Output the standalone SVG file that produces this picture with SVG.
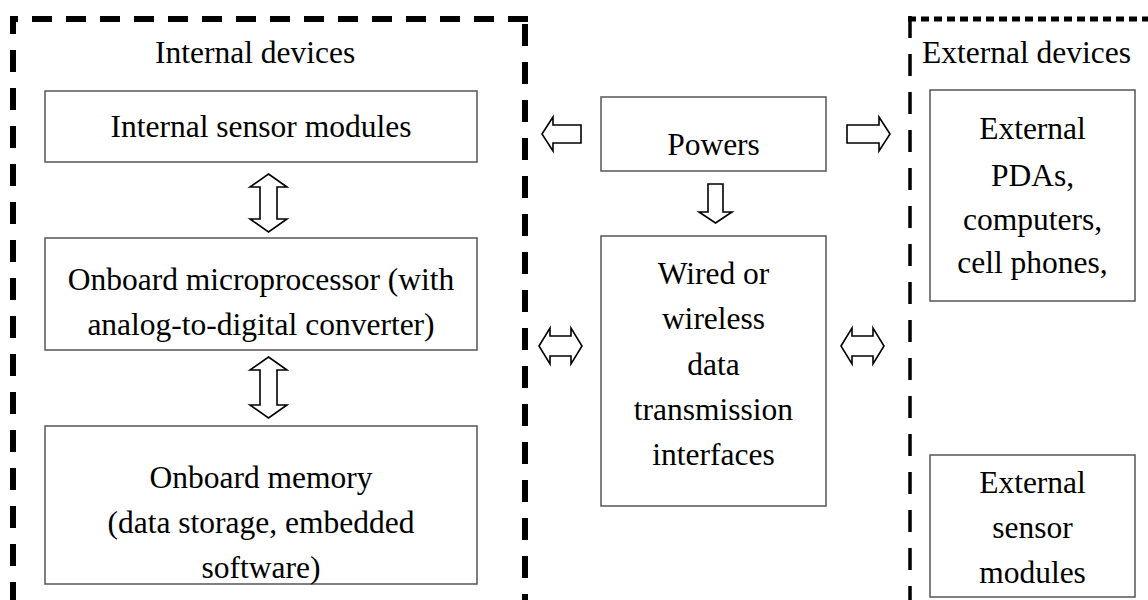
<svg xmlns="http://www.w3.org/2000/svg" width="1148" height="600" viewBox="0 0 1148 600">
  <style>
    .box { fill: #ffffff; stroke: #555555; stroke-width: 1.5; }
    .label { font-family: "Liberation Serif", "Times New Roman", serif; font-size: 31.5px; fill: #000000; text-anchor: middle; }
    .title { font-family: "Liberation Serif", "Times New Roman", serif; font-size: 31.5px; fill: #000000; }
    .bound { fill: none; stroke: #000000; }
    .arrow { fill: #ffffff; stroke: #000000; stroke-width: 1.6; stroke-linejoin: miter; }
  </style>
  <rect width="1148" height="600" fill="#ffffff"/>

  <!-- dashed boundary: internal devices -->
  <g id="internal-devices">
    <path class="bound" d="M10,19 H528" stroke-width="6" stroke-dasharray="20 14" stroke-dashoffset="12"/>
    <path class="bound" d="M13,16 V600" stroke-width="6" stroke-dasharray="22 16" stroke-dashoffset="4"/>
    <path class="bound" d="M525,16 V600" stroke-width="6" stroke-dasharray="22 16" stroke-dashoffset="30"/>
    <text class="title" x="155" y="63">Internal devices</text>
  </g>

  <!-- dashed boundary: external devices -->
  <g id="external-devices">
    <path class="bound" d="M908,19 H1148" stroke-width="5" stroke-dasharray="8 5"/>
    <path class="bound" d="M910,16 V600" stroke-width="3.5" stroke-dasharray="22 16"/>
    <text class="title" x="922" y="63">External devices</text>
  </g>

  <g id="internal-sensor-modules">
    <rect class="box" x="45" y="91" width="432" height="71"/>
    <text class="label" x="261" y="137">Internal sensor modules</text>
  </g>

  <g id="onboard-microprocessor">
    <rect class="box" x="45" y="238" width="432" height="112"/>
    <text class="label" x="261" y="290">Onboard microprocessor (with</text>
    <text class="label" x="261" y="335">analog-to-digital converter)</text>
  </g>

  <g id="onboard-memory">
    <rect class="box" x="45" y="426" width="432" height="158"/>
    <text class="label" x="261" y="488">Onboard memory</text>
    <text class="label" x="261" y="533"> (data storage, embedded</text>
    <text class="label" x="261" y="578">software)</text>
  </g>

  <g id="powers">
    <rect class="box" x="601" y="97" width="225" height="74"/>
    <text class="label" x="713.5" y="155">Powers</text>
  </g>

  <g id="data-interfaces">
    <rect class="box" x="601" y="236" width="225" height="270"/>
    <text class="label" x="713.5" y="284">Wired or</text>
    <text class="label" x="713.5" y="329">wireless</text>
    <text class="label" x="713.5" y="375">data</text>
    <text class="label" x="713.5" y="420">transmission</text>
    <text class="label" x="713.5" y="465">interfaces</text>
  </g>

  <g id="external-pdas">
    <rect class="box" x="930" y="90" width="205" height="211"/>
    <text class="label" x="1032.5" y="139">External</text>
    <text class="label" x="1032.5" y="186">PDAs,</text>
    <text class="label" x="1032.5" y="230">computers,</text>
    <text class="label" x="1032.5" y="273">cell phones,</text>
  </g>

  <g id="external-sensor-modules">
    <rect class="box" x="930" y="455" width="205" height="142"/>
    <text class="label" x="1032.5" y="493">External</text>
    <text class="label" x="1032.5" y="538">sensor</text>
    <text class="label" x="1032.5" y="583">modules</text>
  </g>

  <!-- block arrows between the units -->
  <g id="connectors">
    <polygon class="arrow" points="268.5,174 287,187 277,187 277,219 287,219 268.5,232 250,219 260,219 260,187 250,187"/>
    <polygon class="arrow" points="268.5,357 287,370 277,370 277,405 287,405 268.5,418 250,405 260,405 260,370 250,370"/>
    <polygon class="arrow" points="542,134 553,117 553,125 581,125 581,143 553,143 553,151"/>
    <polygon class="arrow" points="890,134 879,117 879,125 847,125 847,143 879,143 879,151"/>
    <polygon class="arrow" points="715.5,223 732,212 723,212 723,184 708,184 708,212 699,212"/>
    <polygon class="arrow" points="539,346 550,328 550,336 571,336 571,328 582,346 571,364 571,356 550,356 550,364"/>
    <polygon class="arrow" points="841,346 852,328 852,336 873,336 873,328 884,346 873,364 873,356 852,356 852,364"/>
  </g>
</svg>
